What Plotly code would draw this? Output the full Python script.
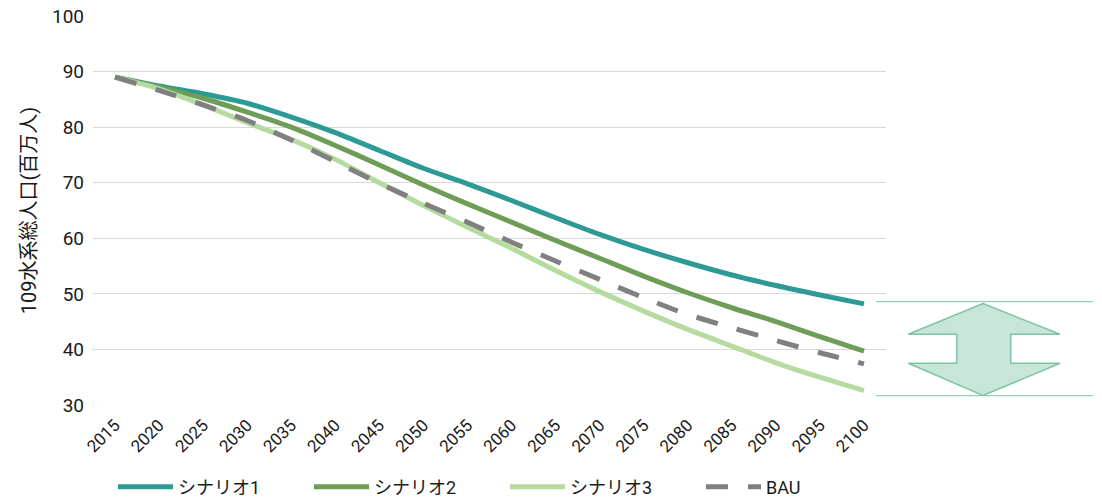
import plotly.graph_objects as go

years = [str(y) for y in range(2015, 2101, 5)]
scenario1 = [89.0, 87.4, 86.0, 84.3, 81.8, 79.0, 75.8, 72.6, 69.8, 66.8, 63.7, 60.7, 58.0, 55.6, 53.4, 51.5, 49.8, 48.2]
scenario2 = [89.0, 87.2, 85.2, 82.7, 80.0, 76.7, 73.2, 69.6, 66.2, 62.9, 59.6, 56.4, 53.2, 50.2, 47.5, 45.0, 42.3, 39.7]
scenario3 = [89.0, 86.9, 84.0, 80.8, 77.8, 74.2, 70.0, 65.9, 62.0, 58.2, 54.2, 50.4, 46.9, 43.6, 40.6, 37.6, 35.0, 32.6]
bau = [89.0, 86.6, 84.0, 81.2, 77.7, 73.8, 69.9, 66.3, 62.9, 59.3, 55.9, 52.6, 49.3, 46.3, 43.9, 41.6, 39.4, 37.4]

names = ["シナリオ1", "シナリオ2", "シナリオ3", "BAU"]
colors = ["#2E9A96", "#6E9D58", "#B5DBA0", "#808080"]
y_title = "109水系総人口(百万人)"

FONT = "Roboto, Noto Sans CJK JP, sans-serif"

fig = go.Figure()
for name, vals, col in zip(names[:3], [scenario1, scenario2, scenario3], colors[:3]):
    fig.add_trace(go.Scatter(x=years, y=vals, name=name, mode="lines",
                             line=dict(color=col, width=5, shape="spline", smoothing=0.8)))
fig.add_trace(go.Scatter(x=years, y=bau, name=names[3], mode="lines",
                         line=dict(color=colors[3], width=5, shape="spline", smoothing=0.8,
                                   dash="22px,20px")))

W, H = 1102, 499
# plot-area geometry in pixels (for decoration placement)
L, R, T, B = 93, 886, 16, 405
def px(xp):
    return (xp - L) / (R - L)
def py(yp):
    return (B - yp) / (B - T)

edge = "#7DC4A6"
for yy in (301.7, 395.7):
    fig.add_shape(type="line", xref="paper", yref="paper",
                  x0=px(876), x1=px(1093), y0=py(yy), y1=py(yy),
                  line=dict(color=edge, width=1))
pts = [(983, 303.5), (1060, 334.3), (1010.7, 334.3), (1010.7, 363.3), (1060, 363.3),
       (983, 395.5), (908.3, 363.3), (956.7, 363.3), (956.7, 334.3), (908.3, 334.3)]
path = "M " + " L ".join(f"{px(a):.5f},{py(b):.5f}" for a, b in pts) + " Z"
fig.add_shape(type="path", xref="paper", yref="paper", path=path,
              fillcolor="#C8E6D8", line=dict(color=edge, width=1.5))

fig.update_layout(
    width=W, height=H,
    margin=dict(l=L, r=W - R, t=T, b=H - B, autoexpand=False),
    paper_bgcolor="white", plot_bgcolor="white",
    font=dict(family=FONT, size=16, color="#1a1a1a"),
    showlegend=True,
    legend=dict(orientation="h", x=px(897), xanchor="right", y=py(487), yanchor="middle",
                font=dict(size=18), entrywidth=126, entrywidthmode="pixels",
                itemwidth=55, traceorder="normal"),
    xaxis=dict(type="category", tickangle=-45, showgrid=False, showline=False,
               ticks="", tickfont=dict(size=17), ticklabelstandoff=6,
               range=[-0.5, len(years) - 0.5]),
    yaxis=dict(range=[30, 100], dtick=10, showgrid=True, gridcolor="#D9D9D9", gridwidth=1,
               zeroline=False, showline=False, ticks="", tickfont=dict(size=19),
               ticklabelstandoff=8,
               title=dict(text=y_title, font=dict(size=20), standoff=9)),
)

# remove the browser's default 8px page margin so the figure sits at the window origin
fig.write_html("out.html", config={"displayModeBar": False},
               post_script="document.body.style.margin='0';document.body.style.overflow='hidden';")
